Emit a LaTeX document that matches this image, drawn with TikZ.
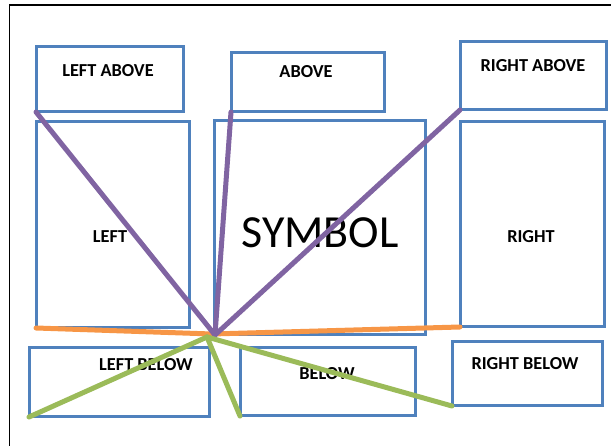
\documentclass[tikz,border=0pt]{standalone}
\usepackage{fontspec}
\setmainfont{Carlito}
\definecolor{boxblue}{RGB}{79,129,189}
\definecolor{lpurple}{RGB}{128,100,162}
\definecolor{lorange}{RGB}{247,150,70}
\definecolor{lgreen}{RGB}{155,187,89}
\tikzset{
  box/.style={draw=boxblue, line width=3pt, inner sep=0pt, outer sep=0pt, rectangle},
  lbl/.style={inner sep=0pt, font=\fontsize{18.3}{21}\selectfont\bfseries},
  ray/.style={line width=5pt, line cap=round},
  pray/.style={ray, draw=lpurple},
  oray/.style={ray, draw=lorange},
  gray/.style={ray, draw=lgreen},
}
\begin{document}
\begin{tikzpicture}[x=1pt,y=-1pt]
\useasboundingbox (0,0) rectangle (611,446);
\draw[line width=1.5pt] (9.5,446) -- (9.5,5) -- (611,5);
% boxes
\node[box, minimum width=147pt, minimum height=65pt]  (la) at (109.5,79.5) {};
\node[box, minimum width=153pt, minimum height=59pt]  (ab) at (307.5,82.5) {};
\node[box, minimum width=146pt, minimum height=68pt]  (ra) at (533,76) {};
\node[box, minimum width=153pt, minimum height=206pt] (l)  at (112.5,225) {};
\node[box, minimum width=211pt, minimum height=214pt] (s)  at (319.5,228) {};
\node[box, minimum width=144pt, minimum height=205pt] (r)  at (532,224.5) {};
\node[box, minimum width=180pt, minimum height=69pt]  (lb) at (119,382.5) {};
\node[box, minimum width=175pt, minimum height=68pt]  (b)  at (327.5,382) {};
\node[box, minimum width=150pt, minimum height=64pt]  (rb) at (527,374) {};
% labels
\node[lbl] (tla) at (108,71) {LEFT ABOVE};
\node[lbl] (tab) at (306,72) {ABOVE};
\node[lbl] (tra) at (533,66) {RIGHT ABOVE};
\node[lbl] (tl)  at (110,237) {LEFT};
\node[inner sep=0pt, font=\fontsize{46}{50}\selectfont] (ts) at (320,233) {SYMBOL};
\node[lbl] (tr)  at (531,237) {RIGHT};
\node[lbl] (tlb) at (146,365) {LEFT BELOW};
\node[lbl] (tb)  at (327,374) {BELOW};
\node[lbl] (trb) at (525,364) {RIGHT BELOW};
% hubs
\coordinate (hp) at (215,335);
\coordinate (ho) at (212,334);
\coordinate (hg) at (207,337);
% rays
\draw[oray] (l.south west) -- (ho) -- (r.south west);
\draw[pray] (la.south west) -- (hp);
\draw[pray] (ab.south west) -- (hp);
\draw[pray] (ra.south west) -- (hp);
\draw[gray] (lb.south west) -- (hg);
\draw[gray] (b.south west) -- (hg);
\draw[gray] (rb.south west) -- (hg);
\end{tikzpicture}
\end{document}
